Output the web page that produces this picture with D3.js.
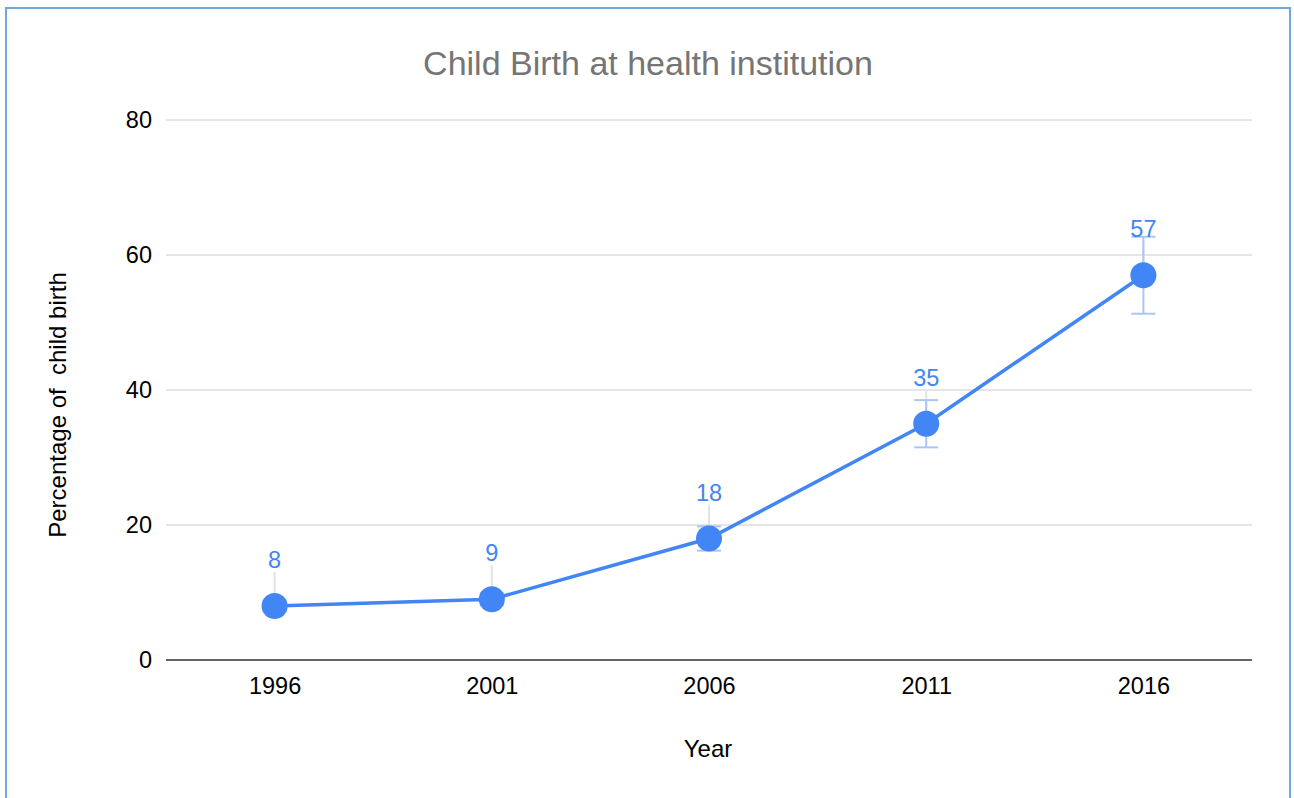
<!DOCTYPE html>
<html><head><meta charset="utf-8">
<script src="https://cdn.jsdelivr.net/npm/d3@7"></script>
<style>body{margin:0;background:#fff;font-family:"Liberation Sans",Arial,sans-serif;}</style>
</head><body><svg id="c" width="1294" height="798"></svg>
<script>
const years = ["1996","2001","2006","2011","2016"];
const values = [8, 9, 18, 35, 57];
const errorPct = 0.10;
const yTicks = [0, 20, 40, 60, 80];

const svg = d3.select("#c");
const m = {left:166, right:1252, top:120, bottom:660};
const FONT = "Liberation Sans, Arial, sans-serif";

svg.append("rect").attr("x",6).attr("y",8).attr("width",1284).attr("height",820)
  .attr("fill","#fff").attr("stroke","#6fa8dc").attr("stroke-width",2);

const x = d3.scalePoint().domain(years).range([m.left, m.right]).padding(0.5);
const y = d3.scaleLinear().domain([0, 80]).range([m.bottom, m.top]);

svg.append("g").selectAll("line").data(yTicks.filter(d=>d>0)).join("line")
  .attr("x1",m.left).attr("x2",m.right).attr("y1",d=>y(d)).attr("y2",d=>y(d))
  .attr("stroke","#cccccc").attr("stroke-width",1);

const ya = svg.append("g").attr("transform",`translate(${m.left},0)`)
  .call(d3.axisLeft(y).tickValues(yTicks).tickSize(0).tickPadding(14));
ya.select(".domain").remove();
ya.selectAll("text").attr("font-size",23.5).attr("fill","#000").attr("font-family",FONT);

const xa = svg.append("g").attr("transform",`translate(0,${m.bottom})`)
  .call(d3.axisBottom(x).tickSize(0).tickPadding(17));
xa.select(".domain").attr("d",`M${m.left},0H${m.right}`).attr("stroke","#333").attr("stroke-width",1.5);
xa.selectAll("text").attr("font-size",23.5).attr("fill","#000").attr("font-family",FONT);

svg.append("text").attr("x",648).attr("y",75).attr("text-anchor","middle")
  .attr("font-size",34).attr("fill","#757575").text("Child Birth at health institution");
svg.append("text").attr("x",708).attr("y",757).attr("text-anchor","middle")
  .attr("font-size",24).attr("fill","#000").text("Year");
svg.append("text").attr("transform","translate(66,405) rotate(-90)").attr("text-anchor","middle")
  .style("white-space","pre")
  .attr("font-size",24).attr("fill","#000").text("Percentage of  child birth");

const data = years.map((yr,i)=>({yr, v:values[i]}));

svg.append("g").selectAll("line").data(data).join("line")
  .attr("x1",d=>x(d.yr)).attr("x2",d=>x(d.yr))
  .attr("y1",d=>y(d.v)-34).attr("y2",d=>y(d.v))
  .attr("stroke","#e3e3e3").attr("stroke-width",2);

const eb = svg.append("g").attr("stroke","#a9c6f7").attr("stroke-width",2).attr("fill","none");
data.forEach(d=>{
  const lo = d.v*(1-errorPct), hi = d.v*(1+errorPct), cx = x(d.yr);
  eb.append("line").attr("x1",cx).attr("x2",cx).attr("y1",y(hi)).attr("y2",y(lo));
  eb.append("line").attr("x1",cx-12).attr("x2",cx+12).attr("y1",y(hi)).attr("y2",y(hi));
  eb.append("line").attr("x1",cx-12).attr("x2",cx+12).attr("y1",y(lo)).attr("y2",y(lo));
});

svg.append("path").datum(data)
  .attr("d", d3.line().x(d=>x(d.yr)).y(d=>y(d.v)))
  .attr("fill","none").attr("stroke","#4285f4").attr("stroke-width",3.5);

svg.append("g").selectAll("circle").data(data).join("circle")
  .attr("cx",d=>x(d.yr)).attr("cy",d=>y(d.v)).attr("r",13).attr("fill","#4285f4");

svg.append("g").selectAll("text").data(data).join("text")
  .attr("x",d=>x(d.yr)).attr("y",d=>y(d.v)-38).attr("text-anchor","middle")
  .attr("font-size",23.5).attr("fill","#4285f4").attr("font-family",FONT).text(d=>d.v);
</script></body></html>
